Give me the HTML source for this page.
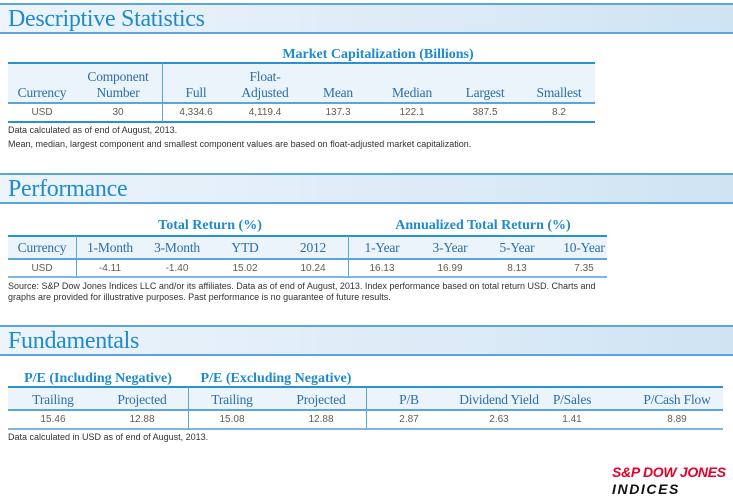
<!DOCTYPE html>
<html><head><meta charset="utf-8"><style>
*{margin:0;padding:0;box-sizing:border-box}
body{width:733px;height:504px;background:#fff;position:relative;overflow:hidden;font-family:"Liberation Sans",Arial,sans-serif}
.bar{position:absolute;left:0;width:733px;height:31px;border-top:2px solid #5aa6d8;border-bottom:2px solid #5aa6d8;background:linear-gradient(90deg,#edf4fb,#d9e9f6 70%,#cfe3f3)}
.bar span{position:absolute;left:8px;top:1px;font-family:"Liberation Serif",serif;font-size:24px;color:#1d8bcc;letter-spacing:-0.3px}
.a{position:absolute;white-space:nowrap}
.h{font-family:"Liberation Serif",serif;font-size:13.5px;letter-spacing:-0.2px;color:#2a6fa8;transform:translateX(-50%);text-align:center;line-height:16px}
.g{font-family:"Liberation Serif",serif;font-size:14px;font-weight:bold;color:#1d8bcc;transform:translateX(-50%)}
.d{font-size:10px;color:#6a5a4a;transform:translateX(-50%)}
.n{font-size:9px;color:#333}
.hl{position:absolute;height:2px;background:#2a90d0}
.tl{position:absolute;height:1px;background:#7fb8e2}
.vl{position:absolute;width:1px;background:#5aa6d8}
.bg{position:absolute;background:#ebf3fb}
</style></head><body>
<div class="bar" style="top:3px"><span>Descriptive Statistics</span></div>
<div class="a g" style="left:378px;top:47px">Market Capitalization (Billions)</div>
<div class="bg" style="left:8px;top:63px;width:587px;height:40px"></div>
<div class="hl" style="left:8px;top:62px;width:587px"></div>
<div class="tl" style="left:8px;top:102px;width:587px;height:2px;background:#5aa6d8"></div>
<div class="hl" style="left:8px;top:121px;width:587px"></div>
<div class="vl" style="left:162px;top:63px;height:59px"></div>
<div class="a h" style="left:42px;top:85px">Currency</div>
<div class="a h" style="left:118px;top:69px">Component<br>Number</div>
<div class="a h" style="left:196px;top:85px">Full</div>
<div class="a h" style="left:265px;top:69px">Float-<br>Adjusted</div>
<div class="a h" style="left:338px;top:85px">Mean</div>
<div class="a h" style="left:412px;top:85px">Median</div>
<div class="a h" style="left:485px;top:85px">Largest</div>
<div class="a h" style="left:559px;top:85px">Smallest</div>
<div class="a d" style="left:42px;top:107px">USD</div>
<div class="a d" style="left:118px;top:107px">30</div>
<div class="a d" style="left:196px;top:107px">4,334.6</div>
<div class="a d" style="left:265px;top:107px">4,119.4</div>
<div class="a d" style="left:338px;top:107px">137.3</div>
<div class="a d" style="left:412px;top:107px">122.1</div>
<div class="a d" style="left:485px;top:107px">387.5</div>
<div class="a d" style="left:559px;top:107px">8.2</div>
<div class="a n" style="left:8px;top:125px">Data calculated as of end of August, 2013.</div>
<div class="a n" style="left:8px;top:139px">Mean, median, largest component and smallest component values are based on float-adjusted market capitalization.</div>

<div class="bar" style="top:173px"><span>Performance</span></div>
<div class="a g" style="left:210px;top:218px">Total Return (%)</div>
<div class="a g" style="left:483px;top:218px">Annualized Total Return (%)</div>
<div class="bg" style="left:8px;top:236px;width:599px;height:23px"></div>
<div class="hl" style="left:8px;top:235px;width:599px"></div>
<div class="tl" style="left:8px;top:258px;width:599px;height:2px;background:#5aa6d8"></div>
<div class="hl" style="left:8px;top:276px;width:599px;background:#7fb8e2"></div>
<div class="vl" style="left:76px;top:236px;height:41px"></div>
<div class="vl" style="left:348px;top:236px;height:41px"></div>
<div class="a h" style="left:42px;top:240px">Currency</div>
<div class="a h" style="left:110px;top:240px">1-Month</div>
<div class="a h" style="left:177px;top:240px">3-Month</div>
<div class="a h" style="left:245px;top:240px">YTD</div>
<div class="a h" style="left:313px;top:240px">2012</div>
<div class="a h" style="left:382px;top:240px">1-Year</div>
<div class="a h" style="left:450px;top:240px">3-Year</div>
<div class="a h" style="left:517px;top:240px">5-Year</div>
<div class="a h" style="left:584px;top:240px">10-Year</div>
<div class="a d" style="left:42px;top:263px">USD</div>
<div class="a d" style="left:110px;top:263px">-4.11</div>
<div class="a d" style="left:177px;top:263px">-1.40</div>
<div class="a d" style="left:245px;top:263px">15.02</div>
<div class="a d" style="left:313px;top:263px">10.24</div>
<div class="a d" style="left:382px;top:263px">16.13</div>
<div class="a d" style="left:450px;top:263px">16.99</div>
<div class="a d" style="left:517px;top:263px">8.13</div>
<div class="a d" style="left:584px;top:263px">7.35</div>
<div class="a n" style="left:8px;top:281px">Source: S&amp;P Dow Jones Indices LLC and/or its affiliates. Data as of end of August, 2013. Index performance based on total return USD. Charts and</div>
<div class="a n" style="left:8px;top:292px">graphs are provided for illustrative purposes. Past performance is no guarantee of future results.</div>

<div class="bar" style="top:325px"><span>Fundamentals</span></div>
<div class="a g" style="left:98px;top:371px">P/E (Including Negative)</div>
<div class="a g" style="left:276px;top:371px">P/E (Excluding Negative)</div>
<div class="bg" style="left:8px;top:387px;width:715px;height:23px"></div>
<div class="hl" style="left:8px;top:386px;width:715px"></div>
<div class="tl" style="left:8px;top:409px;width:715px;height:2px;background:#5aa6d8"></div>
<div class="hl" style="left:8px;top:428px;width:715px;background:#7fb8e2"></div>
<div class="vl" style="left:188px;top:387px;height:42px"></div>
<div class="vl" style="left:366px;top:387px;height:42px"></div>
<div class="a h" style="left:53px;top:392px">Trailing</div>
<div class="a h" style="left:142px;top:392px">Projected</div>
<div class="a h" style="left:232px;top:392px">Trailing</div>
<div class="a h" style="left:321px;top:392px">Projected</div>
<div class="a h" style="left:409px;top:392px">P/B</div>
<div class="a h" style="left:499px;top:392px">Dividend Yield</div>
<div class="a h" style="left:572px;top:392px">P/Sales</div>
<div class="a h" style="left:677px;top:392px">P/Cash Flow</div>
<div class="a d" style="left:53px;top:414px">15.46</div>
<div class="a d" style="left:142px;top:414px">12.88</div>
<div class="a d" style="left:232px;top:414px">15.08</div>
<div class="a d" style="left:321px;top:414px">12.88</div>
<div class="a d" style="left:409px;top:414px">2.87</div>
<div class="a d" style="left:499px;top:414px">2.63</div>
<div class="a d" style="left:572px;top:414px">1.41</div>
<div class="a d" style="left:677px;top:414px">8.89</div>
<div class="a n" style="left:8px;top:432px">Data calculated in USD as of end of August, 2013.</div>

<div class="a" style="left:612px;top:464px;font-size:14px;font-weight:bold;font-style:italic;color:#e4002b;letter-spacing:-0.3px">S&amp;P DOW JONES</div>
<div class="a" style="left:612px;top:481px;font-size:14px;font-weight:bold;font-style:italic;color:#111;letter-spacing:1.6px">INDICES</div>
</body></html>
